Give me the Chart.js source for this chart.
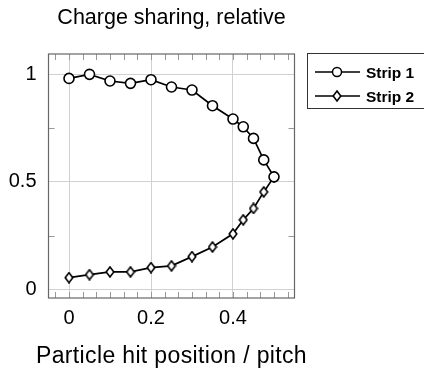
<!DOCTYPE html>
<html>
<head>
<meta charset="utf-8">
<script src="https://cdn.jsdelivr.net/npm/chart.js@4"></script>
<style>
  html, body { margin: 0; padding: 0; background: #fff; }
  #wrap { width: 424px; height: 369px; }
</style>
</head>
<body>
<div id="wrap"><canvas id="chart" width="424" height="369"></canvas></div>
<script>
const hitPositions = [0, 0.05, 0.1, 0.15, 0.2, 0.25, 0.3, 0.35, 0.4, 0.425, 0.45, 0.475, 0.5];
const strip1 = [0.981, 1.0, 0.969, 0.958, 0.975, 0.941, 0.927, 0.854, 0.792, 0.756, 0.702, 0.602, 0.523];
const strip2 = [0.054, 0.068, 0.081, 0.081, 0.101, 0.109, 0.152, 0.197, 0.258, 0.323, 0.376, 0.453, 0.523];
const seriesNames = ["Strip 1", "Strip 2"];
const xTicks = [0, 0.2, 0.4];
const yTicks = [0, 0.5, 1];

const FONT = "'Liberation Sans', Arial, sans-serif";

// diamond mark, a bit taller than wide like the pgfplots one
function diamondMark() {
  const c = document.createElement("canvas");
  c.width = 10;
  c.height = 12;
  const g = c.getContext("2d");
  g.beginPath();
  g.moveTo(5, 1);
  g.lineTo(8.8, 6);
  g.lineTo(5, 11);
  g.lineTo(1.2, 6);
  g.closePath();
  g.fillStyle = "#fff";
  g.fill();
  g.lineWidth = 1.6;
  g.strokeStyle = "#000";
  g.stroke();
  return c;
}
const diamond = diamondMark();

function points(ys) {
  return hitPositions.map((x, i) => ({ x: x, y: ys[i] }));
}

const extras = {
  id: "extras",
  afterDraw(chart) {
    const ctx = chart.ctx;
    const a = chart.chartArea;
    const xs = chart.scales.x;
    const ys = chart.scales.y;
    ctx.save();

    // minor ticks on all four sides
    ctx.strokeStyle = "#999";
    ctx.lineWidth = 1;
    ctx.beginPath();
    for (let v = -0.2 / 6; v < 0.55; v += 0.2 / 6) {
      const px = Math.round(xs.getPixelForValue(v)) + 0.5;
      ctx.moveTo(px, a.top); ctx.lineTo(px, a.top + 6);
      ctx.moveTo(px, a.bottom); ctx.lineTo(px, a.bottom - 6);
    }
    [0.25, 0.75].forEach((v) => {
      const py = Math.round(ys.getPixelForValue(v)) + 0.5;
      ctx.moveTo(a.left, py); ctx.lineTo(a.left + 6, py);
      ctx.moveTo(a.right, py); ctx.lineTo(a.right - 6, py);
    });
    ctx.stroke();

    // axis box
    ctx.strokeStyle = "#666";
    ctx.lineWidth = 1.2;
    ctx.strokeRect(a.left, a.top, a.right - a.left, a.bottom - a.top);

    // title and x axis label
    const cx = (a.left + a.right) / 2;
    ctx.fillStyle = "#000";
    ctx.textAlign = "center";
    ctx.textBaseline = "alphabetic";
    ctx.font = "21.5px " + FONT;
    ctx.fillText("Charge sharing, relative", cx, 24);
    ctx.font = "23px " + FONT;
    ctx.letterSpacing = "0.35px";
    ctx.fillText("Particle hit position / pitch", cx, 363);
    ctx.letterSpacing = "0px";

    // legend
    const lx = 307;
    const ly = 53;
    ctx.strokeStyle = "#333";
    ctx.lineWidth = 1;
    ctx.strokeRect(lx + 0.5, ly + 0.5, 130, 55);
    seriesNames.forEach((name, i) => {
      const y = ly + 19 + i * 24;
      ctx.strokeStyle = "#000";
      ctx.lineWidth = 1.7;
      ctx.beginPath();
      ctx.moveTo(lx + 8, y);
      ctx.lineTo(lx + 53, y);
      ctx.stroke();
      if (i === 0) {
        ctx.beginPath();
        ctx.arc(lx + 30, y, 4.5, 0, Math.PI * 2);
        ctx.fillStyle = "#fff";
        ctx.fill();
        ctx.lineWidth = 1.5;
        ctx.stroke();
      } else {
        ctx.drawImage(diamond, lx + 30 - 5, y - 6);
      }
      ctx.fillStyle = "#000";
      ctx.font = "bold 15.5px " + FONT;
      ctx.textAlign = "left";
      ctx.fillText(name, lx + 59, y + 5.5);
    });
    ctx.restore();
  }
};

new Chart(document.getElementById("chart"), {
  type: "line",
  data: {
    datasets: [
      {
        label: seriesNames[0],
        data: points(strip1),
        borderColor: "#000",
        borderWidth: 1.7,
        pointStyle: "circle",
        pointRadius: 5,
        pointBorderWidth: 1.6,
        pointBackgroundColor: "#fff",
        pointBorderColor: "#000",
        tension: 0
      },
      {
        label: seriesNames[1],
        data: points(strip2),
        borderColor: "#000",
        borderWidth: 1.7,
        pointStyle: diamond,
        pointRadius: 5,
        tension: 0
      }
    ]
  },
  options: {
    responsive: false,
    animation: false,
    layout: { padding: { left: 0, right: 424 - 294.5, top: 54, bottom: 0 } },
    plugins: {
      legend: { display: false },
      tooltip: { enabled: false }
    },
    scales: {
      x: {
        type: "linear",
        min: -0.05,
        max: 0.55,
        afterBuildTicks: (s) => { s.ticks = xTicks.map((v) => ({ value: v })); },
        afterFit: (s) => { s.height = 369 - 298; },
        grid: { color: "#d0d0d0", drawTicks: false },
        border: { display: false },
        ticks: {
          color: "#000",
          padding: 8,
          font: { family: FONT, size: 20 },
          callback: (v) => String(v)
        }
      },
      y: {
        type: "linear",
        min: -0.0405,
        max: 1.0946,
        afterBuildTicks: (s) => { s.ticks = yTicks.map((v) => ({ value: v })); },
        afterFit: (s) => { s.width = 48.5; },
        grid: { color: "#d0d0d0", drawTicks: false },
        border: { display: false },
        ticks: {
          color: "#000",
          padding: 12,
          font: { family: FONT, size: 20 },
          callback: (v) => String(v)
        }
      }
    }
  },
  plugins: [extras]
});
</script>
</body>
</html>
